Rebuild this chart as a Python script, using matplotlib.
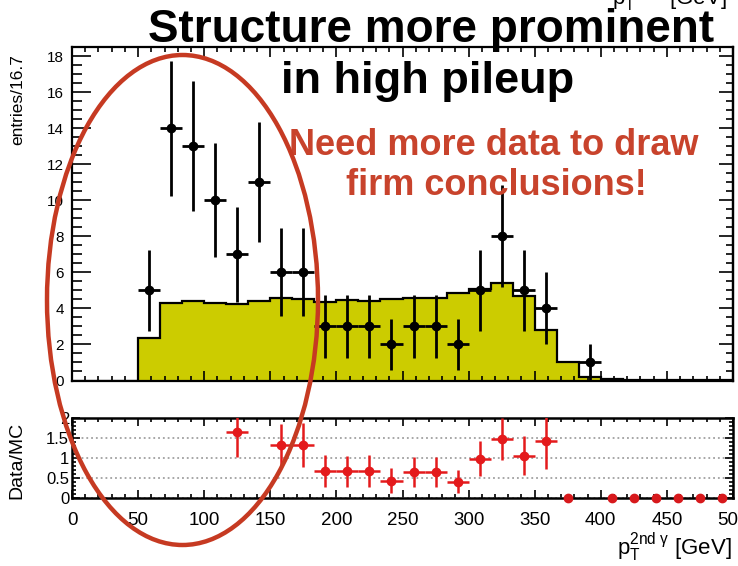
import numpy as np
import matplotlib
matplotlib.use("Agg")
import matplotlib.pyplot as plt
from matplotlib.patches import Ellipse
from matplotlib.ticker import MultipleLocator, FormatStrFormatter

plt.rcParams['font.family'] = ['Liberation Sans', 'DejaVu Sans']
plt.rcParams['mathtext.fontset'] = 'custom'
plt.rcParams['mathtext.rm'] = 'Liberation Sans'
plt.rcParams['mathtext.it'] = 'Liberation Sans:italic'

# histogram binning: 30 bins of 16.7 GeV
pt_min, pt_max, n_bins = 0, 500, 30

# data counts per bin
data_counts = [0, 0, 0, 5, 14, 13, 10, 7, 11, 6, 6, 3, 3, 3, 2,
               3, 3, 2, 5, 8, 5, 4, 0, 1, 0, 0, 0, 0, 0, 0]
# MC expectation per bin
mc_counts = [0, 0, 0, 2.37, 4.28, 4.41, 4.31, 4.26, 4.41, 4.55, 4.5, 4.37, 4.46, 4.41, 4.54,
             4.59, 4.6, 4.87, 5.06, 5.39, 4.7, 2.78, 1.02, 0.2, 0.08, 0.05, 0.04, 0.03, 0.02, 0.02]

title_lines = ["Structure more prominent", "in high pileup"]
note_lines = ["Need more data to draw", "firm conclusions!"]
xlabel = r'p$_\mathregular{T}^\mathregular{2nd\ \gamma}$ [GeV]'

edges = np.linspace(pt_min, pt_max, n_bins + 1)
centers = 0.5 * (edges[:-1] + edges[1:])
half_w = 0.5 * (edges[1] - edges[0])
data = np.array(data_counts, dtype=float)
mc = np.array(mc_counts, dtype=float)

W, H = 738, 566
def fx(px):
    return px / W
def fy(py):
    return 1 - py / H

fig = plt.figure(figsize=(W / 100, H / 100), dpi=100)
fig.patch.set_facecolor('white')

# --- top panel ---
ax = fig.add_axes([fx(72), fy(380.5), fx(733) - fx(72), fy(47) - fy(380.5)])
ax.stairs(mc, edges, fill=True, color='#cccc00', zorder=1)
ax.stairs(mc, edges, color='black', lw=1.6, zorder=2)

m = data > 0
ax.errorbar(centers[m], data[m], yerr=np.sqrt(data[m]), xerr=half_w,
            fmt='o', color='black', ms=6, elinewidth=2, capsize=0, zorder=3)

ax.set_xlim(pt_min, pt_max)
ax.set_ylim(0, 18.5)
ax.xaxis.set_major_locator(MultipleLocator(50))
ax.xaxis.set_minor_locator(MultipleLocator(10))
ax.yaxis.set_major_locator(MultipleLocator(2))
ax.yaxis.set_minor_locator(MultipleLocator(0.5))
ax.yaxis.set_major_formatter(FormatStrFormatter('%g'))
ax.tick_params(which='both', direction='in', top=True, right=False, labelbottom=False, width=1.2)
ax.tick_params(axis='y', which='major', length=14, labelsize=11, pad=6)
ax.tick_params(axis='y', which='minor', length=7)
ax.tick_params(axis='x', which='major', length=7)
ax.tick_params(axis='x', which='minor', length=3.5)
for s in ax.spines.values():
    s.set_linewidth(1.6)
sec = ax.secondary_yaxis('right')
sec.yaxis.set_major_locator(MultipleLocator(2))
sec.yaxis.set_minor_locator(MultipleLocator(0.5))
sec.tick_params(which='both', direction='in', labelright=False, width=1.2)
sec.tick_params(which='major', length=10)
sec.tick_params(which='minor', length=5)
sec.spines['right'].set_linewidth(1.6)

fig.text(fx(18), fy(100), 'entries/16.7', rotation=90, ha='center', va='center', fontsize=12.5)

# --- ratio panel ---
axr = fig.add_axes([fx(72), fy(498.3), fx(733) - fx(72), fy(418) - fy(498.3)])
has_mc = mc > 0
ratio = np.where(has_mc, data / np.where(has_mc, mc, 1), np.nan)
ratio_err = np.where(has_mc, np.sqrt(data) / np.where(has_mc, mc, 1), np.nan)
show = has_mc & (ratio > 0) & (ratio <= 2)
zero = has_mc & (ratio == 0)
axr.errorbar(centers[show], ratio[show], yerr=ratio_err[show], xerr=half_w,
             fmt='o', color='#e41a1c', ms=6, elinewidth=1.8, capsize=0, zorder=3)
axr.plot(centers[zero], ratio[zero], 'o', color='#d7191c', ms=6, clip_on=False, zorder=4)

axr.set_xlim(pt_min, pt_max)
axr.set_ylim(0, 2)
axr.xaxis.set_major_locator(MultipleLocator(50))
axr.xaxis.set_minor_locator(MultipleLocator(10))
axr.yaxis.set_major_locator(MultipleLocator(0.5))
axr.yaxis.set_minor_locator(MultipleLocator(0.1))
axr.xaxis.set_major_formatter(FormatStrFormatter('%g'))
axr.yaxis.set_major_formatter(FormatStrFormatter('%g'))
axr.yaxis.grid(True, which='major', ls=':', color='#a0a0a0', lw=1.3)
axr.tick_params(which='both', direction='in', top=True, right=True, width=1.2)
axr.tick_params(axis='y', which='major', length=6, labelsize=12, pad=2)
axr.tick_params(axis='y', which='minor', length=3)
axr.tick_params(axis='x', which='major', length=6, labelsize=13.5, pad=10)
axr.tick_params(axis='x', which='minor', length=3)
for s in axr.spines.values():
    s.set_linewidth(1.8)

fig.text(fx(17), fy(460), 'Data/MC', rotation=90, ha='center', va='center', fontsize=14)
fig.text(fx(732), fy(555), xlabel, ha='right', va='baseline', fontsize=16)
# clipped axis label from the plot above
fig.text(fx(727), fy(5), xlabel, ha='right', va='baseline', fontsize=16)

# --- annotations ---
fig.text(fx(431), fy(42), title_lines[0], ha='center', va='baseline',
         fontsize=33, fontweight='bold', color='black', zorder=5)
fig.text(fx(428), fy(93), title_lines[1], ha='center', va='baseline',
         fontsize=32.5, fontweight='bold', color='black', zorder=5)
fig.text(fx(494), fy(155), note_lines[0], ha='center', va='baseline',
         fontsize=26, fontweight='bold', color='#c8432c', zorder=5)
fig.text(fx(496), fy(195), note_lines[1], ha='center', va='baseline',
         fontsize=26, fontweight='bold', color='#c8432c', zorder=5)

ell = Ellipse((fx(182.5), fy(300)), width=271 / W, height=490 / H, transform=fig.transFigure,
              fill=False, ec='#c63a22', lw=3.2, zorder=6)
fig.add_artist(ell)

fig.savefig('out.png', dpi=100)
